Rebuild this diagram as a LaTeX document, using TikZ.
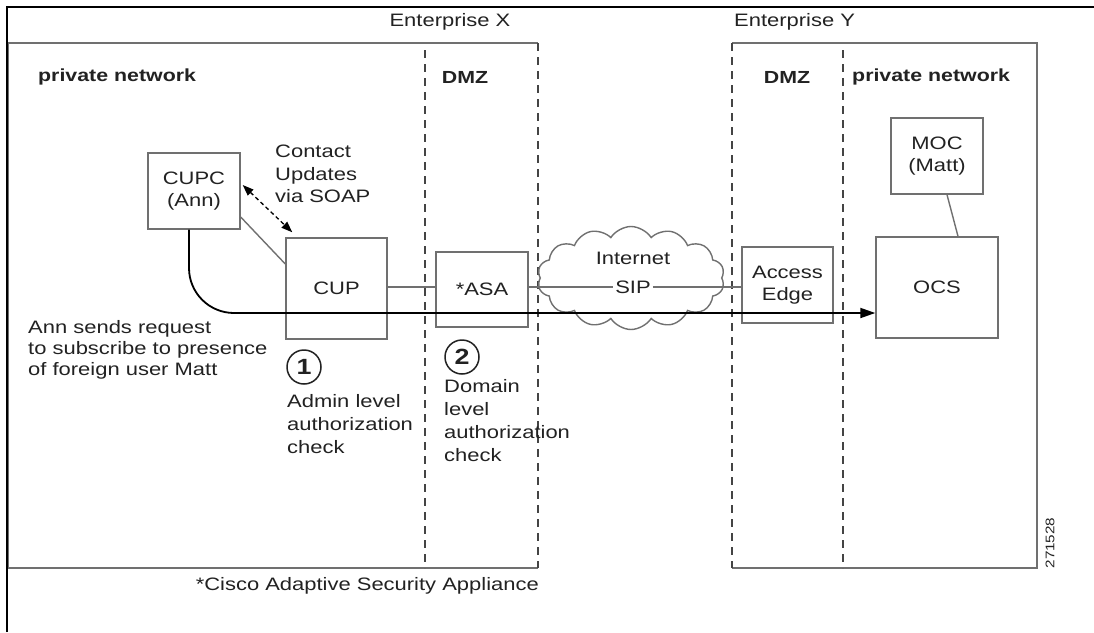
\documentclass[tikz,border=0pt]{standalone}
\usepackage{fontspec}
\setmainfont{Liberation Sans}[FakeStretch=1.22]
\usetikzlibrary{shapes.symbols,arrows.meta}
\definecolor{txt}{HTML}{222222}
\definecolor{boxc}{HTML}{707070}
\definecolor{dashc}{HTML}{444444}
\begin{document}
\begin{tikzpicture}[x=1pt,y=-1pt,
  every node/.style={text=txt, font=\fontsize{18}{22.5}\selectfont},
  box/.style={draw=boxc, line width=1.4pt, fill=white, inner sep=0pt, align=center},
  zone/.style={draw=dashc, line width=2.2pt, dash pattern=on 8pt off 6pt},
  frameline/.style={draw=boxc, line width=1.4pt},
  lbl/.style={inner sep=0pt, align=left},
  hdr/.style={inner sep=0pt, font=\fontsize{17.5}{22}\selectfont\bfseries},
  num/.style={circle, draw=txt, line width=1.5pt, minimum size=34pt, inner sep=0pt, font=\fontsize{22}{22}\selectfont\bfseries},
  link/.style={draw=boxc, line width=1.4pt},
]
\useasboundingbox (0,0) rectangle (1094,632);
\fill[white] (0,0) rectangle (1094,632);

% enterprise frames
\draw[frameline] (538,43) -- (8,43) -- (8,568) -- (538,568);
\draw[frameline] (732,43) -- (1037,43) -- (1037,568) -- (732,568);
\draw[zone] (425,50) -- (425,568);
\draw[zone] (538,43) -- (538,568);
\draw[zone] (732,43) -- (732,568);
\draw[zone] (843,50) -- (843,568);

% outer black frame
\draw[black, line width=2.4pt] (7,632) -- (7,7) -- (1094,7);

% headings
\node[inner sep=0pt] (entx) at (450,22) {Enterprise X};
\node[inner sep=0pt, anchor=west] (enty) at (734,22) {Enterprise Y};
\node[hdr, anchor=west] (pnx) at (38,77) {private network};
\node[hdr] (dmzx) at (465,77) {DMZ};
\node[hdr] (dmzy) at (787,77) {DMZ};
\node[hdr, anchor=west] (pny) at (852,77) {private network};

% boxes
\node[box, minimum width=92pt, minimum height=76pt] (cupc) at (194,191) {CUPC\\(Ann)};
\node[box, minimum width=101pt, minimum height=101pt] (cup) at (336.5,288.5) {CUP};
\node[box, minimum width=92pt, minimum height=75pt] (asa) at (482,289.5) {*ASA};
\node[box, minimum width=91pt, minimum height=76pt] (ae) at (787.5,285) {Access\\Edge};
\node[box, minimum width=122pt, minimum height=101pt] (ocs) at (937,287.5) {OCS};
\node[box, minimum width=92pt, minimum height=76pt] (moc) at (937,156) {MOC\\(Matt)};

% cloud
\node[cloud, draw=boxc, line width=1.4pt, fill=white, cloud puffs=14, cloud puff arc=115,
      aspect=1.8, minimum width=187pt, minimum height=103pt, inner sep=0pt] (net) at (631,278) {};
\node[inner sep=0pt] (inet) at (633,258) {Internet};
\node[fill=white, inner sep=2pt] (sip) at (633,287) {SIP};

% links
\draw[link] (cup.east |- sip.west) -- (asa.west |- sip.west);
\draw[link] (asa.east |- sip.west) -- (sip.west);
\draw[link] (sip.east) -- (sip.east -| ae.west);
\draw[link] ([yshift=-26pt]cupc.east) -- ([yshift=24.5pt]cup.west);
\draw[link] ([xshift=10pt]moc.south) -- ([xshift=21pt]ocs.north);
\draw[black, line width=1.3pt, dash pattern=on 4pt off 3pt,
      {Triangle[length=11pt,width=8pt]}-{Triangle[length=11pt,width=8pt]}]
  ([xshift=2pt,yshift=6pt]cupc.east) -- ([xshift=7pt,yshift=5pt]cup.north west);

% texts
\node[lbl, anchor=north west] (soap) at (275,145) {Contact\\Updates\\via SOAP};
\node[lbl, anchor=north west, font=\fontsize{18}{21}\selectfont] (ann) at (28,320) {Ann sends request\\to subscribe to presence\\of foreign user Matt};
\node[num] (n1) at (304,367) {1};
\node[lbl, anchor=north west, font=\fontsize{18}{23}\selectfont] (adm) at (287,394) {Admin level\\authorization\\check};
\node[num] (n2) at (462,357) {2};
\node[lbl, anchor=north west, font=\fontsize{18}{23}\selectfont] (dom) at (444,379) {Domain\\level\\authorization\\check};
\node[inner sep=0pt, anchor=east] (foot) at (539,586) {*Cisco Adaptive Security Appliance};
\node[inner sep=0pt, rotate=90, font=\fontsize{12.5}{14}\selectfont] (fig) at (1050,543) {271528};

% request arrow
\draw[black, line width=1.8pt, rounded corners=45pt, -{Triangle[length=15pt,width=10pt]}]
  ([xshift=-5pt]cupc.south) |- ([yshift=-25.5pt]ocs.west);
\end{tikzpicture}
\end{document}
